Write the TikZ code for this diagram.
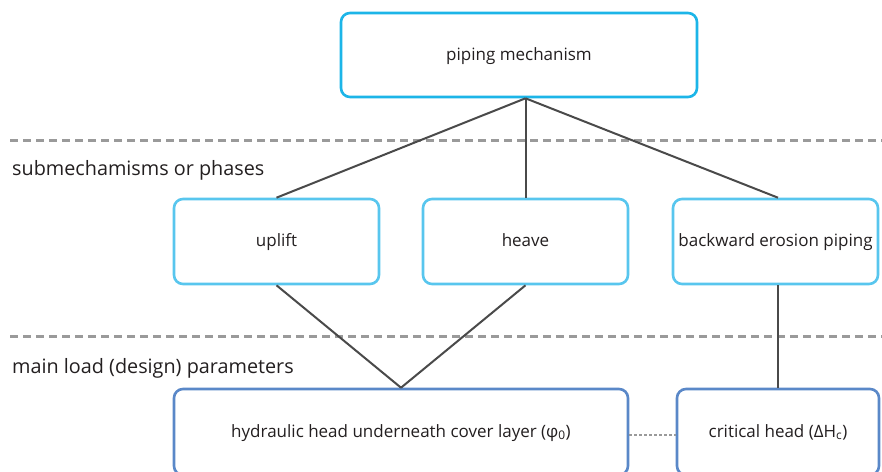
\documentclass[tikz,border=0pt]{standalone}
\usepackage{fontspec}
\setmainfont{Open Sans}
\definecolor{topc}{HTML}{1CB5E8}
\definecolor{midc}{HTML}{58C6EE}
\definecolor{botc}{HTML}{5A88C8}
\definecolor{textc}{HTML}{231F20}
\definecolor{linec}{HTML}{4A4A4A}
\definecolor{sepc}{HTML}{9A9A9A}
\begin{document}
\begin{tikzpicture}[x=1pt,y=-1pt,
  box/.style={draw, rounded corners=9pt, line width=2.6pt, fill=white, align=center,
    font=\fontsize{17}{20}\selectfont, text=textc, inner sep=0pt,
    text height=1.25em, text depth=0.24em},
  topbox/.style={box, draw=topc},
  midbox/.style={box, draw=midc},
  botbox/.style={box, draw=botc},
  conn/.style={draw=linec, line width=2pt},
  sepline/.style={draw=sepc, line width=3pt, dash pattern=on 7.5pt off 5.5pt},
  dotconn/.style={draw=sepc, line width=1.4pt, dash pattern=on 3pt off 2pt},
  lbl/.style={anchor=base west, font=\fontsize{19.8}{24}\selectfont, text=textc, inner sep=0pt}]
\useasboundingbox (0,0) rectangle (882,471);
\clip (0,0) rectangle (882,471);

\draw[sepline] (10,140) -- (882,140);
\draw[sepline] (10,336) -- (882,336);
\node[lbl] (l1) at (12,175) {submechamisms or phases};
\node[lbl] (l2) at (12,373) {main load (design) parameters};

\node[topbox, minimum width=356pt, minimum height=84pt] (top) at (519,55) {piping mechanism};
\node[midbox, minimum width=205pt, minimum height=85pt] (uplift) at (276.5,241.5) {uplift};
\node[midbox, minimum width=205pt, minimum height=85pt] (heave) at (525.5,241.5) {heave};
\node[midbox, minimum width=205pt, minimum height=85pt] (bep) at (775.5,241.5) {backward erosion piping};
\node[botbox, minimum width=454pt, minimum height=86pt] (hyd) at (401,432) {hydraulic head underneath cover layer (φ\textsubscript{0})};
\node[botbox, minimum width=202pt, minimum height=86pt] (crit) at (778,432) {critical head (ΔH\textsubscript{c})};

\coordinate (hub) at (heave.north |- top.south);
\coordinate (bepin) at (crit.north |- bep.north);
\coordinate (bepout) at (crit.north |- bep.south);
\draw[conn] (hub) -- (uplift.north);
\draw[conn] (hub) -- (heave.north);
\draw[conn] (hub) -- (bepin);
\draw[conn] (uplift.south) -- (hyd.north);
\draw[conn] (heave.south) -- (hyd.north);
\draw[conn] (bepout) -- (crit.north);
\draw[dotconn] (hyd.east |- 0,435) -- (crit.west |- 0,435);
\end{tikzpicture}
\end{document}
